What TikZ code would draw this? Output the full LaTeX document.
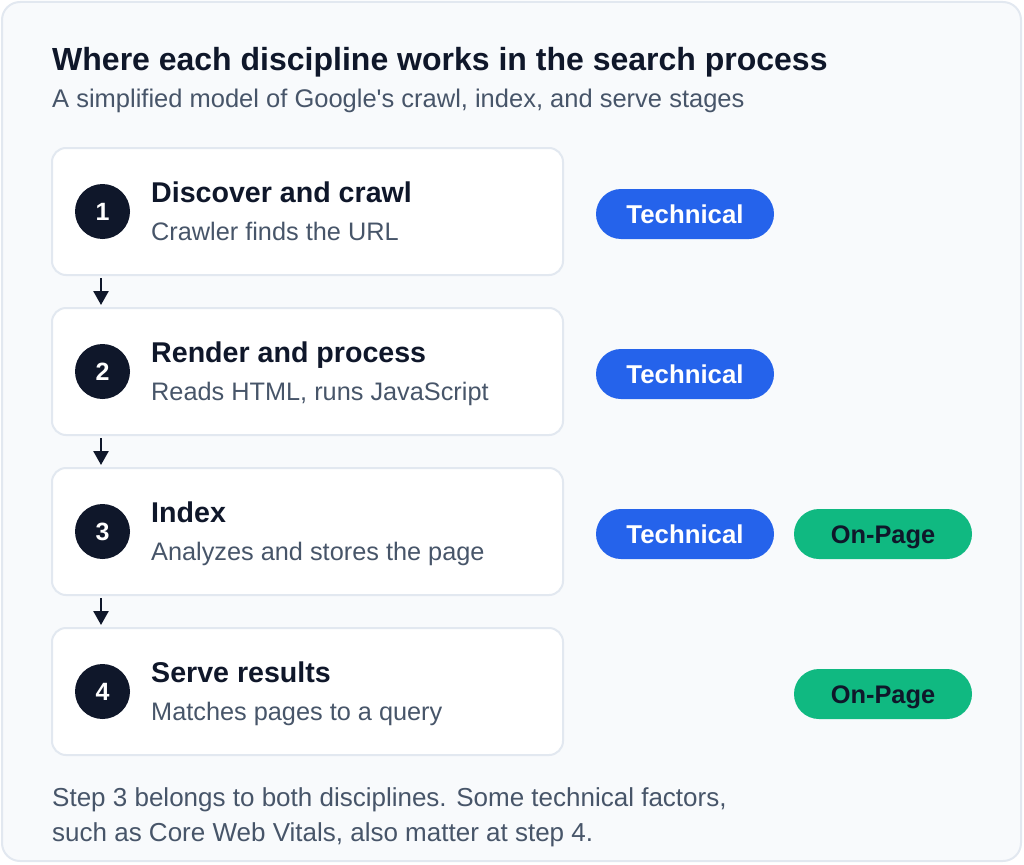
\documentclass[tikz,border=0pt]{standalone}
\usepackage{fontspec}
\setmainfont{Liberation Sans}
\usetikzlibrary{arrows.meta}
\newcommand{\straightquote}{\XeTeXglyph\XeTeXcharglyph"0027\relax}
\definecolor{ink}{HTML}{0F172A}
\definecolor{muted}{HTML}{475569}
\definecolor{cardbg}{HTML}{F8FAFC}
\definecolor{cardline}{HTML}{E2E8F0}
\definecolor{techblue}{HTML}{2563EB}
\definecolor{pagegreen}{HTML}{10B981}
\tikzset{
  card/.style={draw=cardline, line width=2pt, fill=white, rounded corners=14pt},
  numdot/.style={circle, fill=ink, minimum size=55pt, inner sep=0pt, text=white, text height=18pt, text depth=0pt, font=\fontsize{25}{25}\selectfont\bfseries},
  steptitle/.style={anchor=base west, inner sep=0pt, text=ink, font=\fontsize{28.6}{28.6}\selectfont\bfseries},
  stepsub/.style={anchor=base west, inner sep=0pt, text=muted, font=\fontsize{25.3}{25.3}\selectfont},
  badge/.style={rounded corners=25pt, minimum width=178pt, minimum height=50pt, inner sep=0pt, text height=18.5pt, text depth=0pt},
  tech/.style={badge, fill=techblue, text=white, font=\fontsize{25.8}{25.8}\selectfont\bfseries},
  onpage/.style={badge, fill=pagegreen, text=ink, font=\fontsize{25.4}{25.4}\selectfont\bfseries},
  flow/.style={draw=ink, line width=2.5pt, -{Triangle[length=14pt,width=15pt]}},
  foot/.style={anchor=base west, inner sep=0pt, text=muted, font=\fontsize{26}{26}\selectfont},
}
\begin{document}
\begin{tikzpicture}[x=1pt,y=-1pt]
\useasboundingbox (0,0) rectangle (1024,864);
\draw[draw=cardline, line width=2pt, fill=cardbg, rounded corners=18pt] (2,2) rectangle (1021,861);
\node[anchor=base west, inner sep=0pt, text=ink, font=\fontsize{32}{32}\selectfont\bfseries] (title) at (52,71) {Where each discipline works in the search process};
\node[anchor=base west, inner sep=0pt, text=muted, font=\fontsize{25.5}{25.5}\selectfont] (subtitle) at (52,108) {A simplified model of Google\straightquote s crawl, index, and serve stages};

\foreach \i/\y/\t/\s in {1/148/Discover and crawl/Crawler finds the URL, 2/308/Render and process/{Reads HTML, runs JavaScript}, 3/468/Index/Analyzes and stores the page, 4/628/Serve results/Matches pages to a query}{
  \path[card] (52,\y) rectangle (563,\y+127);
  \node[numdot] (n\i) at (102.5,\y+63.5) {\i};
  \node[steptitle] (t\i) at (151,\y+54) {\t};
  \node[stepsub] (s\i) at (151,\y+92) {\s};
}
\coordinate (a1) at (101,278); \coordinate (b1) at (101,305);
\coordinate (a2) at (101,438); \coordinate (b2) at (101,465);
\coordinate (a3) at (101,598); \coordinate (b3) at (101,625);
\draw[flow] (a1) -- (b1);
\draw[flow] (a2) -- (b2);
\draw[flow] (a3) -- (b3);

\node[tech] (k1) at (685,214) {Technical};
\node[tech] (k2) at (685,374) {Technical};
\node[tech] (k3) at (685,534) {Technical};
\node[onpage] (p3) at (883,534) {On-Page};
\node[onpage] (p4) at (883,694) {On-Page};

\node[foot] (f1) at (52,806) {Step 3 belongs to both disciplines. Some technical factors,};
\node[foot] (f2) at (52,841) {such as Core Web Vitals, also matter at step 4.};
\end{tikzpicture}
\end{document}
